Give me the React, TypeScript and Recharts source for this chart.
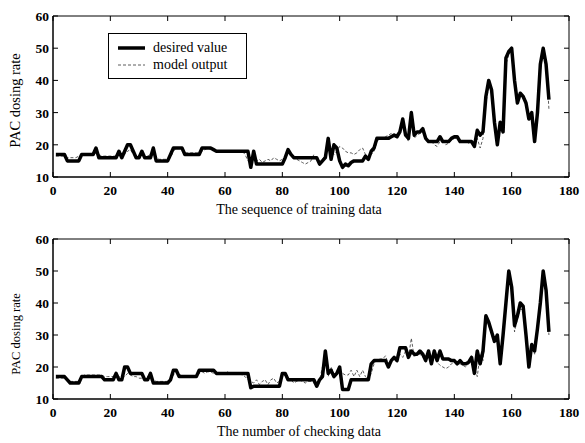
import React from 'react';
import { LineChart, Line, XAxis, YAxis, Label, ReferenceArea } from 'recharts';

// sample index 1..173
const trainDesired = [
  17, 17, 17, 17, 15, 15, 15, 15, 15, 17,
  17, 17, 17, 17, 19, 16, 16, 16, 16, 16,
  16, 16, 18, 16, 18, 20, 20, 18, 16, 16,
  18, 16, 16, 16, 19, 15, 15, 15, 15, 15,
  17, 19, 19, 19, 19, 17, 17, 17, 17, 17,
  17, 19, 19, 19, 19, 18.5, 18, 18, 18, 18,
  18, 18, 18, 18, 18, 18, 18, 18, 13, 18,
  14, 14, 14, 14, 14, 14, 14, 14, 14, 14,
  16, 18.5, 17, 16, 16, 16, 16, 16, 16, 16,
  16, 16, 14, 15, 16, 22, 15.5, 20, 19, 15,
  13, 14, 13.5, 14.5, 15, 15, 15, 15, 16.5, 15.5,
  18, 19, 22, 22, 22, 22, 22, 22.5, 23, 22.5,
  24, 28, 23, 22, 30, 23, 24, 24, 25, 22,
  21, 21, 21, 21, 22.5, 21, 21, 21, 22, 22.5,
  22.5, 21, 21, 21, 21, 21, 19.5, 24.5, 23, 24,
  35, 40, 37, 27, 20, 27, 24, 47, 49, 50,
  40, 33, 36, 35, 33, 28, 30, 21, 30, 45,
  50, 45, 34,
];

const trainModel = [
  16.5, 16.5, 16.5, 16.5, 16, 16, 16, 16, 16.5, 17,
  17, 17, 17, 17, 17.5, 17, 16.5, 16.5, 16.5, 16.5,
  16.5, 16.5, 17, 17, 17, 18, 18.5, 17, 16.5, 16.5,
  17, 16.5, 16.5, 17, 17.5, 16, 15.5, 15.5, 15.5, 15.5,
  16, 18, 19, 19, 18.5, 17.5, 17.5, 17.5, 17.5, 17.5,
  17.5, 18, 18.5, 19, 18.5, 18.5, 18, 18, 18, 18,
  18, 18, 18, 18, 18, 18, 17, 15, 15.5, 16,
  15, 15.5, 14.5, 15, 15.5, 15, 16, 15.5, 15, 15.5,
  15.5, 17.5, 17.5, 16, 15.5, 15, 14.5, 14, 14.5, 15,
  17, 15.5, 15, 15.5, 17, 20, 19, 17, 18, 19.5,
  19, 18, 17.5, 17.5, 17, 17.5, 18.5, 19, 17, 16,
  17, 18, 21, 22, 22, 22.5, 23, 23.5, 22.5, 23.5,
  24, 26, 23, 21, 27, 22, 23, 23.5, 24, 21.5,
  21, 21, 20, 19.5, 21, 21, 20, 20.5, 21.5, 22,
  22, 21.5, 21, 21, 20.5, 21, 20, 22, 19, 22,
  33, 38, 37, 28, 22, 26, 25, 45, 48, 49,
  40, 34, 35, 35, 32, 29, 30, 23, 30, 43,
  49, 46, 31,
];

const checkDesired = [
  17, 17, 17, 17, 16, 15, 15, 15, 15, 17,
  17, 17, 17, 17, 17, 17, 17, 16, 16, 16,
  16, 18, 16, 16, 20, 20, 18, 18, 18, 18,
  18, 16, 16, 18, 15, 15, 15, 15, 15, 15,
  16, 19, 19, 17, 17, 17, 17, 17, 17, 17,
  19, 19, 19, 19, 19, 19, 18, 18, 18, 18,
  18, 18, 18, 18, 18, 18, 18, 18, 13.5, 14,
  14, 14, 14, 14, 14, 14, 14, 14, 14, 18,
  18, 16, 16, 16, 16, 16, 16, 16, 16, 16,
  16, 14, 16, 17, 25, 18, 19, 17, 18, 20,
  13, 13, 13, 16, 16, 16, 16, 16, 16, 16,
  21, 22, 22, 22, 22, 22, 20, 22, 23, 22,
  26, 26, 26, 23, 25, 24, 24, 25, 24, 22,
  25, 21, 25, 22, 25, 22.5, 22.5, 22.5, 22, 22,
  21, 22, 21, 21, 21.5, 23, 18, 25, 21, 25,
  36, 34, 31, 28, 30, 21, 30, 40, 50, 45,
  33, 36, 40, 39, 30, 20, 27, 25, 32, 40,
  50, 44, 31,
];

const checkModel = [
  16.5, 16.5, 16.5, 16.5, 16, 15.5, 15.5, 15.5, 15.5, 17,
  17.5, 17.5, 17.5, 17.5, 17.5, 17.5, 17.5, 17, 17, 17,
  17, 17, 17, 17, 17, 18, 17.5, 17, 17, 16.5,
  16.5, 16, 17, 16, 16, 15.5, 15.5, 15.5, 15.5, 15.5,
  16, 17.5, 18.5, 18, 17, 17, 17, 17, 17, 17,
  18, 18.5, 18, 18.5, 18.5, 18, 18, 18, 18, 18,
  18.5, 18, 18, 18, 18, 17.5, 17, 16, 15.5, 15,
  16, 14.5, 15.5, 16, 14.5, 16, 16.5, 15, 15.5, 17,
  17.5, 16.5, 16, 15, 15.5, 16, 15.5, 15, 15.5, 15.5,
  15, 15, 16, 20, 22, 17, 20, 18, 17.5, 19,
  18, 17.5, 17.5, 19, 17, 19, 17, 19, 17, 16,
  18, 21, 22, 22.5, 22.5, 23.5, 21, 22, 22.5, 21.5,
  24, 23, 25, 23, 29, 23, 24, 24, 23, 22.5,
  23.5, 22, 23, 21.5, 20.5, 20, 19.5, 20, 21, 21.5,
  21, 21, 20.5, 20, 21, 23.5, 20, 17, 24, 22,
  34, 33, 30, 28, 29, 22, 29, 39, 48, 44,
  31, 35, 38, 38, 30, 21, 26, 24, 31, 39,
  49, 44, 30,
];

const xTicks = [0, 20, 40, 60, 80, 100, 120, 140, 160, 180];
const yTicks = [10, 20, 30, 40, 50, 60];

const FONT = '"Liberation Serif", "Times New Roman", serif';
const TICK_LEN = 5;
const CHART_W = 585;
const AXIS_H = 44;
const AXIS_W = 53;
const RIGHT = 16;

const buildRows = (desired: number[], model: number[]) =>
  desired.map((d, i) => ({ x: i + 1, desired: d, model: model[i] }));

const trainRows = buildRows(trainDesired, trainModel);
const checkRows = buildRows(checkDesired, checkModel);

// inward tick marks on both opposite sides, labels outside
const BottomTick = ({ x, y, payload, plotH }: any) => (
  <g>
    <line x1={x} y1={y} x2={x} y2={y - TICK_LEN} stroke="#000" />
    <line x1={x} y1={y - plotH} x2={x} y2={y - plotH + TICK_LEN} stroke="#000" />
    <text x={x} y={y + 18} textAnchor="middle" fontFamily={FONT} fontSize={13.5} fontWeight="bold" fill="#000">
      {payload.value}
    </text>
  </g>
);

const LeftTick = ({ x, y, payload, plotW }: any) => (
  <g>
    <line x1={x} y1={y} x2={x + TICK_LEN} y2={y} stroke="#000" />
    <line x1={x + plotW} y1={y} x2={x + plotW - TICK_LEN} y2={y} stroke="#000" />
    <text x={x - 4} y={y + 5} textAnchor="end" fontFamily={FONT} fontSize={13.5} fontWeight="bold" fill="#000">
      {payload.value}
    </text>
  </g>
);

const LegendBox = () => (
  <svg width={139} height={46} style={{ display: 'block' }}>
    <rect x={0.5} y={0.5} width={138} height={45} fill="#fff" stroke="#000" />
    <line x1={10} y1={15} x2={37} y2={15} stroke="#000" strokeWidth={3.5} />
    <text x={45} y={19} fontFamily={FONT} fontSize={14} fill="#000">
      desired value
    </text>
    <line x1={10} y1={32} x2={37} y2={32} stroke="#333" strokeWidth={0.8} strokeDasharray="3 2" />
    <text x={45} y={36} fontFamily={FONT} fontSize={14} fill="#000">
      model output
    </text>
  </svg>
);

const Panel = ({
  rows,
  xTitle,
  height,
  top,
  yFont,
  yShift,
}: {
  rows: Array<any>;
  xTitle: string;
  height: number;
  top: number;
  yFont: number;
  yShift: number;
}) => {
  const plotH = height - top - AXIS_H;
  const plotW = CHART_W - AXIS_W - RIGHT;
  return (
    <LineChart width={CHART_W} height={height} data={rows} margin={{ top, right: RIGHT, left: 0, bottom: 0 }}>
      <XAxis
        dataKey="x"
        type="number"
        domain={[0, 180]}
        ticks={xTicks}
        interval={0}
        height={AXIS_H}
        tickLine={false}
        tickSize={0}
        tickMargin={0}
        tick={(p: any) => <BottomTick {...p} plotH={plotH} />}
        axisLine={{ stroke: '#000' }}
      >
        <Label
          content={({ viewBox }: any) => (
            <text
              x={viewBox.x + viewBox.width / 2 - 12}
              y={viewBox.y + 37}
              textAnchor="middle"
              fontFamily={FONT}
              fontSize={14}
              fill="#000"
            >
              {xTitle}
            </text>
          )}
        />
      </XAxis>
      <YAxis
        type="number"
        domain={[10, 60]}
        ticks={yTicks}
        interval={0}
        width={AXIS_W}
        tickLine={false}
        tickSize={0}
        tickMargin={0}
        tick={(p: any) => <LeftTick {...p} plotW={plotW} />}
        axisLine={{ stroke: '#000' }}
      >
        <Label
          content={({ viewBox }: any) => {
            const cx = 20;
            const cy = viewBox.y + viewBox.height / 2 + yShift;
            return (
              <text
                x={cx}
                y={cy}
                transform={`rotate(-90 ${cx} ${cy})`}
                textAnchor="middle"
                fontFamily={FONT}
                fontSize={yFont}
                fill="#000"
              >
                PAC dosing rate
              </text>
            );
          }}
        />
      </YAxis>
      <ReferenceArea x1={0} x2={180} y1={10} y2={60} fill="none" stroke="#000" strokeWidth={1} />
      <Line
        type="linear"
        dataKey="model"
        stroke="#333"
        strokeWidth={0.8}
        strokeDasharray="3 2"
        dot={false}
        isAnimationActive={false}
      />
      <Line
        type="linear"
        dataKey="desired"
        stroke="#000"
        strokeWidth={3.5}
        strokeLinejoin="round"
        dot={false}
        isAnimationActive={false}
      />
    </LineChart>
  );
};

export default function App() {
  return (
    <div style={{ position: 'absolute', left: 0, top: 0, width: 585, height: 443, background: '#fff' }}>
      <Panel rows={trainRows} xTitle="The sequence of training data" height={221} top={16} yFont={14.5} yShift={4} />
      <Panel rows={checkRows} xTitle="The number of checking data" height={222} top={18} yFont={12.5} yShift={15} />
      <div style={{ position: 'absolute', left: 108, top: 33 }}>
        <LegendBox />
      </div>
    </div>
  );
}
